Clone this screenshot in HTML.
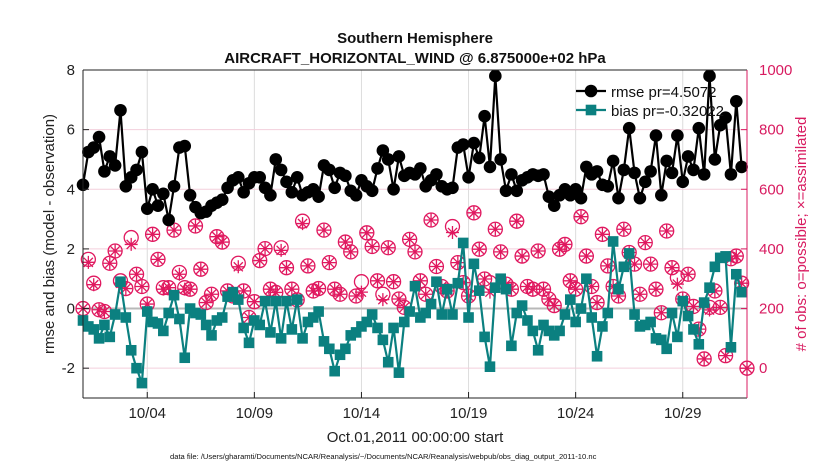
<!DOCTYPE html>
<html><head><meta charset="utf-8"><style>
body{margin:0;background:#fff;}
svg{display:block;font-family:"Liberation Sans",Arial,sans-serif;}
</style></head><body>
<svg id="chart" width="830" height="470" viewBox="0 0 830 470">
<text x="415" y="43" text-anchor="middle" font-size="15" font-weight="bold" fill="#111">Southern Hemisphere</text>
<text x="415" y="63" text-anchor="middle" font-size="15" font-weight="bold" fill="#111">AIRCRAFT_HORIZONTAL_WIND @ 6.875000e+02 hPa</text>
<g id="grid"></g>
<g id="series"></g>
<g id="axes"></g>
<text transform="translate(54,234) rotate(-90)" text-anchor="middle" font-size="15" fill="#222">rmse and bias (model - observation)</text>
<text transform="translate(806,234) rotate(-90)" text-anchor="middle" font-size="15" fill="#d81b60"># of obs: o=possible; ×=assimilated</text>
<text x="415" y="442" text-anchor="middle" font-size="15" fill="#222">Oct.01,2011 00:00:00 start</text>
<text x="170" y="459" font-size="7.6" fill="#111">data file: /Users/gharamti/Documents/NCAR/Reanalysis/~/Documents/NCAR/Reanalysis/webpub/obs_diag_output_2011-10.nc</text>
<g id="legend"></g>
</svg>
<script>
const xTickLabels=["10/04","10/09","10/14","10/19","10/24","10/29"];
const xTickDays=[3,8,13,18,23,28];
const yTicks=[-2,0,2,4,6,8];
const rTicks=[0,200,400,600,800,1000];
const rmse=[4.15,5.25,5.4,5.75,4.6,5.1,4.8,6.65,4.1,4.4,4.65,5.25,3.35,4.0,3.45,3.85,2.97,4.1,5.4,5.45,3.8,3.4,3.2,3.25,3.45,3.55,3.65,4.05,4.3,4.4,3.9,4.2,4.4,4.4,4.05,3.8,5.0,4.65,4.25,3.9,4.4,3.8,3.9,4.0,3.75,4.8,4.65,4.05,4.55,4.45,3.95,3.8,4.3,4.1,3.95,4.7,5.3,5.0,4.0,5.1,4.45,4.55,4.5,4.7,4.1,4.3,4.5,4.1,4.0,4.05,5.4,5.5,4.4,5.55,5.05,6.45,4.75,7.8,5.0,3.95,4.5,3.95,4.3,4.4,4.5,4.45,4.5,3.75,3.45,3.8,4.0,3.8,4.0,3.7,4.75,4.5,4.6,4.15,4.1,4.95,3.7,4.65,6.05,4.55,3.7,4.25,4.6,5.8,3.8,4.95,4.55,5.8,4.25,5.1,4.65,6.05,4.5,7.8,5.0,6.15,6.4,4.5,6.95,4.75];
const bias=[-0.4,-0.6,-0.7,-1.0,-0.55,-0.95,-0.2,0.9,-0.3,-1.4,-2.0,-2.5,-0.1,-0.45,-0.5,-0.75,-0.15,0.45,-0.35,-1.65,0,-0.15,-0.2,-0.55,-0.9,-0.4,-0.3,0.4,0.55,0.3,-0.65,-1.15,-0.4,-0.55,0.25,-0.8,0.25,-1.0,0.25,-0.7,0.3,-1.0,-0.45,-0.3,-0.1,-1.1,-1.35,-2.1,-1.55,-1.35,-0.9,-0.8,-0.6,-0.45,-0.2,-0.65,-1.05,-1.8,-0.65,-2.15,-0.45,-0.1,0.75,-0.3,-0.15,0.15,0.9,-0.2,0.65,-0.2,0.85,2.2,-0.3,1.5,0.6,-0.95,-1.95,0.7,1.0,0.65,-1.25,-0.15,0.1,-0.4,-0.75,-1.4,-0.55,-0.75,-0.9,-0.75,-0.2,0.3,-0.45,0,1.0,-0.3,-1.6,-0.6,-0.15,2.25,0.65,1.4,1.85,-0.2,-0.6,-0.55,-0.45,-1.0,-1.05,-1.35,-0.15,-0.95,0.25,-0.25,-0.7,-1.2,0.2,0.7,1.4,1.7,1.75,-1.3,1.15,0.55];
const possible=[200,365,285,196,190,352,393,293,267,438,315,274,215,449,365,270,270,463,321,270,265,477,332,220,248,441,423,259,242,352,259,170,223,361,401,265,254,404,337,265,229,493,343,259,267,463,354,265,248,423,390,242,290,454,408,293,248,404,290,232,204,432,390,293,248,497,341,274,259,475,354,287,242,521,399,299,287,466,390,282,265,493,376,274,265,393,265,232,210,399,415,293,265,508,376,274,220,449,343,274,242,466,388,349,248,421,349,265,186,460,337,304,232,315,207,131,31,204,259,204,42,367,376,285,0];
const assimilated=[200,355,280,196,190,352,393,285,267,415,315,274,215,449,365,265,270,463,315,265,265,477,332,220,248,441,423,259,242,340,259,170,223,361,401,265,254,395,337,265,229,485,343,259,267,463,354,265,248,423,390,242,255,454,408,293,230,404,290,232,204,432,390,293,248,497,341,274,259,455,354,287,242,521,399,299,255,466,390,282,265,493,376,274,265,393,265,232,210,399,415,293,265,508,376,274,220,449,343,274,242,466,388,349,248,421,349,265,186,460,337,282,232,315,207,131,31,195,259,204,42,367,376,285,0];

const L=83,R=747,T=70,B=398;
const xs=d=>L+(d/31)*(R-L);
const ys=v=>T+(8-v)*(B-T)/11;
const yr=c=>ys(c/100-2);
const NS="http://www.w3.org/2000/svg";
function mk(tag,attrs,parent){const e=document.createElementNS(NS,tag);for(const k in attrs)e.setAttribute(k,attrs[k]);parent.appendChild(e);return e;}
const grid=document.getElementById('grid'),axes=document.getElementById('axes'),ser=document.getElementById('series'),leg=document.getElementById('legend');

xTickDays.forEach((d,i)=>{
  const l=mk('line',{x1:xs(d),x2:xs(d),y1:T,y2:B,stroke:'#dcdcdc','stroke-width':1},grid);
  
  
  const t=mk('text',{x:xs(d),y:B+20,'text-anchor':'middle','font-size':15,fill:'#222'},axes);
  t.textContent=xTickLabels[i];
  
  
  mk('line',{x1:xs(d),x2:xs(d),y1:B,y2:B-6,stroke:'#222'},axes);
});
rTicks.forEach(c=>{
  const l=mk('line',{x1:L,x2:R,y1:yr(c),y2:yr(c),stroke:'#f3cfdc','stroke-width':1},grid);
  
  
  const t=mk('text',{x:R+12,y:yr(c)+5,'font-size':15,fill:'#d81b60'},axes);
  t.textContent=c;
  
  
  mk('line',{x1:R,x2:R-6,y1:yr(c),y2:yr(c),stroke:'#d81b60'},axes);
});
yTicks.forEach(v=>{
  const t=mk('text',{x:L-8,y:ys(v)+5,'text-anchor':'end','font-size':15,fill:'#222'},axes);
  t.textContent=v;
  
  
  mk('line',{x1:L,x2:L+6,y1:ys(v),y2:ys(v),stroke:'#222'},axes);
});
const zl=mk('line',{x1:L,x2:R,y1:ys(0),y2:ys(0),stroke:'#b8b8b8','stroke-width':2},grid);


const ax1=mk('line',{x1:L,x2:L,y1:T,y2:B,stroke:'#222'},axes);


const ax2=mk('line',{x1:L,x2:R,y1:B,y2:B,stroke:'#222'},axes);


mk('line',{x1:L,x2:R,y1:T,y2:T,stroke:'#222'},axes);
const ax3=mk('line',{x1:R,x2:R,y1:T,y2:B,stroke:'#d81b60'},axes);



const OC='#e0185f';
function obsMark(x,y,circle,star,g){
  if(circle){mk('circle',{cx:x,cy:y,r:7,fill:'none',stroke:OC,'stroke-width':1.3},g);}
  if(star){const s=6.5;
    mk('path',{d:`M${x-s},${y}H${x+s}M${x},${y-s}V${y+s}M${x-s*0.7},${y-s*0.7}L${x+s*0.7},${y+s*0.7}M${x-s*0.7},${y+s*0.7}L${x+s*0.7},${y-s*0.7}`,stroke:OC,'stroke-width':1.3,fill:'none'},g);}
}
const og=mk('g',{},ser);


possible.forEach((c,i)=>{
  const x=xs(i*0.25);
  obsMark(x,yr(c),true,false,og);
  obsMark(x,yr(assimilated[i]),false,true,og);
});
function lineSeries(vals,color,name,marker){
  const g=mk('g',{},ser);
  
  
  const pts=vals.map((v,i)=>[xs(i*0.25),ys(v)]);
  mk('polyline',{points:pts.map(p=>p.join(',')).join(' '),fill:'none',stroke:color,'stroke-width':2.2,'stroke-linejoin':'round'},g);
  pts.forEach(p=>{
    if(marker==='c')mk('circle',{cx:p[0],cy:p[1],r:6.3,fill:color},g);
    else mk('rect',{x:p[0]-5.3,y:p[1]-5.3,width:10.6,height:10.6,fill:color},g);
  });
}
lineSeries(bias,'#0b8080','bias-series','s');
lineSeries(rmse,'#000','rmse-series','c');

const l1=mk('g',{},leg);


mk('line',{x1:576,x2:606,y1:91,y2:91,stroke:'#000','stroke-width':2.2},l1);
mk('circle',{cx:591,cy:91,r:6.3,fill:'#000'},l1);
const t1=mk('text',{x:611,y:97,'font-size':15,fill:'#111'},l1);t1.textContent='rmse pr=4.5072';
const l2=mk('g',{},leg);


mk('line',{x1:576,x2:606,y1:110,y2:110,stroke:'#0b8080','stroke-width':2.2},l2);
mk('rect',{x:585.7,y:104.7,width:10.6,height:10.6,fill:'#0b8080'},l2);
const t2=mk('text',{x:611,y:116,'font-size':15,fill:'#111'},l2);t2.textContent='bias pr=-0.32022';
</script>
</body></html>
